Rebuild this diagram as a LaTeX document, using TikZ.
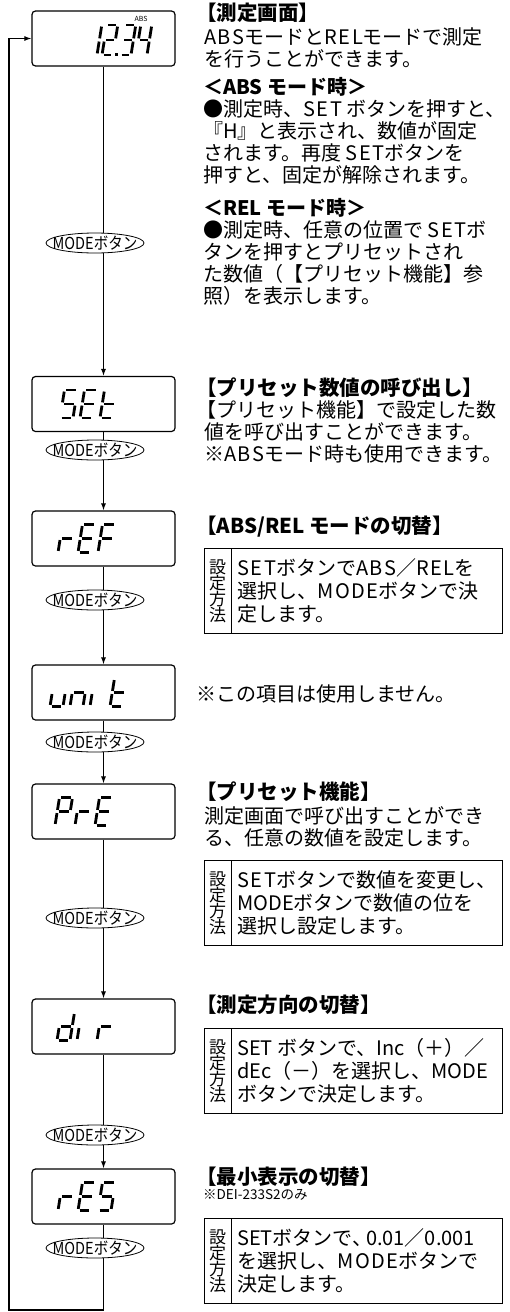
\documentclass[tikz,border=0pt]{standalone}
\usepackage{fontspec}
\setmainfont{Noto Sans CJK JP}
\usetikzlibrary{shapes.geometric,arrows.meta}

% spaced latin letters
\newcommand{\lat}[1]{{\addfontfeatures{LetterSpace=8}#1}}

% seven segment glyphs
\newcommand{\lcdw}{13}
\newcommand{\lcdh}{28}
\newcommand{\lcdsega}{\draw[lcdseg] (1.6,\lcdh) -- (\lcdw-1.6,\lcdh);}
\newcommand{\lcdsegb}{\draw[lcdseg] (\lcdw,\lcdh-1.6) -- (\lcdw,\lcdh/2+1.6);}
\newcommand{\lcdsegc}{\draw[lcdseg] (\lcdw,\lcdh/2-1.6) -- (\lcdw,1.6);}
\newcommand{\lcdsegd}{\draw[lcdseg] (1.6,0) -- (\lcdw-1.6,0);}
\newcommand{\lcdsege}{\draw[lcdseg] (0,\lcdh/2-1.6) -- (0,1.6);}
\newcommand{\lcdsegf}{\draw[lcdseg] (0,\lcdh-1.6) -- (0,\lcdh/2+1.6);}
\newcommand{\lcdsegg}{\draw[lcdseg] (1.6,\lcdh/2) -- (\lcdw-1.6,\lcdh/2);}
\newcommand{\lcdchar}[3]{%
  \begin{scope}[shift={(#1,#2)},y=1pt,xslant=0.16]
    \foreach \s in {#3} {\csname lcdseg\s\endcsname}
  \end{scope}}

\begin{document}
\begin{tikzpicture}[x=1pt,y=-1pt,
    lcd/.style={draw, line width=1.2pt, rounded corners=3.5pt, minimum width=143pt, minimum height=55pt, inner sep=0pt},
    lcdseg/.style={line width=2.8pt},
    modetext/.style={inner sep=0pt, font=\fontsize{16.5}{16.5}\selectfont},
    modebtn/.style={ellipse, draw, fill=white, line width=0.8pt, minimum width=98pt, minimum height=20pt, inner sep=0pt, label={[modetext]center:\scalebox{0.88}[1]{MODEボタン}}},
    flow/.style={line width=1.1pt, -{Latex[length=7pt,width=5pt]}},
    head/.style={anchor=west, inner sep=0pt, font=\fontsize{20.5}{22}\selectfont\bfseries},
    body/.style={anchor=north west, inner sep=0pt, align=left, font=\fontsize{20}{22}\selectfont},
    inbody/.style={body, font=\fontsize{20}{23}\selectfont},
    howbox/.style={draw, line width=0.8pt, anchor=north west, minimum width=298pt, minimum height=85pt, inner sep=0pt},
    howlabel/.style={inner sep=0pt, align=center, font=\fontsize{17}{16}\selectfont}]
    \useasboundingbox (0,0) rectangle (510,1312);

    % displays
    \node[lcd] (abs) at (103.5,38.5) {};
    \node[lcd] (set) at (103.5,404) {};
    \node[lcd] (ref) at (103.5,538.5) {};
    \node[lcd] (unit) at (103.5,692.5) {};
    \node[lcd] (pre) at (103.5,811.5) {};
    \node[lcd] (dir) at (103.5,1026.5) {};
    \node[lcd] (res) at (103.5,1196.5) {};

    % display contents
    \renewcommand{\lcdw}{11}\renewcommand{\lcdh}{30}
    \lcdchar{86}{55}{b,c}
    \lcdchar{102}{55}{a,b,g,e,d}
    \lcdchar{120}{55}{a,b,g,c,d}
    \lcdchar{136}{55}{f,g,b,c}
    \fill (115,53) rectangle (118,56);
    \node[font=\fontsize{7}{7}\selectfont, inner sep=0pt] (abslbl) at (141,19) {ABS};
    \renewcommand{\lcdw}{13}\renewcommand{\lcdh}{28}
    \lcdchar{60}{418}{a,f,g,c,d}
    \lcdchar{80}{418}{a,f,g,e,d}
    \lcdchar{100}{418}{f,e,d,g}
    \lcdchar{58}{552.5}{e,g}
    \lcdchar{78}{552.5}{a,f,g,e,d}
    \lcdchar{98}{552.5}{a,f,g,e}
    \lcdchar{50}{706.5}{e,d,c}
    \lcdchar{70}{706.5}{e,g,c}
    \lcdchar{90}{706.5}{e}
    \lcdchar{110}{706.5}{f,e,d,g}
    \lcdchar{55}{825.5}{a,b,f,g,e}
    \lcdchar{75}{825.5}{e,g}
    \lcdchar{95}{825.5}{a,f,g,e,d}
    \lcdchar{57}{1040.5}{b,c,d,e,g}
    \lcdchar{77}{1040.5}{e}
    \lcdchar{97}{1040.5}{e,g}
    \lcdchar{58}{1210.5}{e,g}
    \lcdchar{78}{1210.5}{a,f,g,e,d}
    \lcdchar{98}{1210.5}{a,f,g,c,d}

    % flow
    \draw[flow] (abs) -- (set);
    \draw[flow] (set) -- (ref);
    \draw[flow] (ref) -- (unit);
    \draw[flow] (unit) -- (pre);
    \draw[flow] (pre) -- (dir);
    \draw[flow] (dir) -- (res);
    \coordinate (back) at (9,1310);
    \draw[flow] (res) |- (back) |- (abs);

    % MODE buttons
    \node[modebtn] (m1) at (95,243) {};
    \node[modebtn] (m2) at (95,450) {};
    \node[modebtn] (m3) at (95,600) {};
    \node[modebtn] (m4) at (95,742) {};
    \node[modebtn] (m5) at (95,918) {};
    \node[modebtn] (m6) at (95,1135) {};
    \node[modebtn] (m7) at (95,1248) {};

    % texts
    \node[head] (h1) at (196,13) {【測定画面】};
    \node[body] (t1) at (204,27) {\lat{ABS}モードと\lat{REL}モードで測定\\を行うことができます。};
    \node[body] (t1a) at (203,77) {\textbf{＜ABS モード時＞}\\●測定時、\lat{SET} ボタンを押すと、\\『H』と表示され、数値が固定\\されます。再度 \lat{SET}ボタンを\\押すと、固定が解除されます。};
    \node[body] (t1b) at (203,198) {\textbf{＜REL モード時＞}\\●測定時、任意の位置で \lat{SET}ボ\\タンを押すとプリセットされ\\た数値（【プリセット機能】参\\照）を表示します。};

    \node[head] (h2) at (196,388) {【プリセット数値の呼び出し】};
    \node[body] (t2) at (204,400) {\hspace*{-0.4em}【プリセット機能】で設定した数\\値を呼び出すことができます。\\※\lat{ABS}モード時も使用できます。};

    \node[head] (h3) at (196,527) {【ABS/REL モードの切替】};
    \node[howbox] (b3) at (204,548) {};
    \draw[line width=0.8pt] ([xshift=27pt]b3.north west) -- ([xshift=27pt]b3.south west);
    \node[howlabel] (l3) at ([xshift=13.5pt]b3.west) {設\\定\\方\\法};
    \node[inbody] (s3) at ([xshift=33pt,yshift=-10pt]b3.north west) {\lat{SET}ボタンで\lat{ABS}／\lat{REL}を\\選択し、\lat{MODE}ボタンで決\\定します。};

    \node[body] (n4) at (196,684) {※この項目は使用しません。};

    \node[head] (h5) at (196,792) {【プリセット機能】};
    \node[body] (t5) at (204,806) {測定画面で呼び出すことができ\\る、任意の数値を設定します。};
    \node[howbox] (b5) at (204,860) {};
    \draw[line width=0.8pt] ([xshift=27pt]b5.north west) -- ([xshift=27pt]b5.south west);
    \node[howlabel] (l5) at ([xshift=13.5pt]b5.west) {設\\定\\方\\法};
    \node[inbody] (s5) at ([xshift=33pt,yshift=-10pt]b5.north west) {\lat{SET}ボタンで数値を変更し、\\MODEボタンで数値の位を\\選択し設定します。};

    \node[head] (h6) at (196,1005) {【測定方向の切替】};
    \node[howbox] (b6) at (204,1028) {};
    \draw[line width=0.8pt] ([xshift=27pt]b6.north west) -- ([xshift=27pt]b6.south west);
    \node[howlabel] (l6) at ([xshift=13.5pt]b6.west) {設\\定\\方\\法};
    \node[inbody] (s6) at ([xshift=33pt,yshift=-10pt]b6.north west) {SET ボタンで、Inc（＋）／\\dEc（－）を選択し、MODE\\ボタンで決定します。};

    \node[head] (h7) at (196,1177) {【最小表示の切替】};
    \node[body, font=\fontsize{13.5}{13.5}\selectfont] (t7) at (203,1189) {※DEI-233S2のみ};
    \node[howbox] (b7) at (204,1218) {};
    \draw[line width=0.8pt] ([xshift=27pt]b7.north west) -- ([xshift=27pt]b7.south west);
    \node[howlabel] (l7) at ([xshift=13.5pt]b7.west) {設\\定\\方\\法};
    \node[inbody] (s7) at ([xshift=33pt,yshift=-10pt]b7.north west) {SETボタンで、\hspace{-0.3em}0.01／0.001\\を選択し、\lat{MODE}ボタンで\\決定します。};
\end{tikzpicture}
\end{document}
